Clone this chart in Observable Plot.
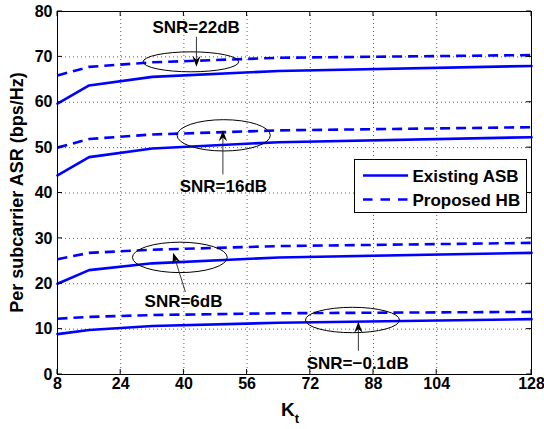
<!DOCTYPE html>
<html><head><meta charset="utf-8">
<script src="https://cdn.jsdelivr.net/npm/d3@7"></script>
<script src="https://cdn.jsdelivr.net/npm/@observablehq/plot@0.6"></script>
<style>body{margin:0;background:#fff;} #chart{width:544px;height:429px;}</style>
</head><body><div id="chart"></div>
<script>
// ---- data ----
const kt = [8, 16, 32, 64, 128];
const asb_22 = [59.7, 63.7, 65.6, 66.9, 68.0];
const hb_22  = [65.9, 67.8, 68.8, 69.8, 70.4];
const asb_16 = [43.9, 47.9, 49.8, 51.2, 52.3];
const hb_16  = [50.0, 51.9, 52.9, 53.8, 54.5];
const asb_6  = [20.0, 23.0, 24.5, 25.8, 26.8];
const hb_6   = [25.4, 26.8, 27.5, 28.3, 29.0];
const asb_m01 = [8.9, 9.8, 10.7, 11.4, 12.2];
const hb_m01  = [12.3, 12.7, 13.1, 13.5, 13.8];
const snrNames = ["22dB", "16dB", "6dB", "-0.1dB"];
const methodNames = ["Existing ASB", "Proposed HB"];
const xTicks = [8, 24, 40, 56, 72, 88, 104, 128];
const yTicks = [0, 10, 20, 30, 40, 50, 60, 70, 80];
const xLabelMain = "K", xLabelSub = "t";
const yLabel = "Per subcarrier ASR (bps/Hz)";

// annotations (data units)
const annLabels = ["SNR=22dB", "SNR=16dB", "SNR=6dB", "SNR=\u22120.1dB"];
const annTextX = [43.1, 50.0, 39.9, 84.0];
const annTextY = [76.4, 41.5, 16.0, 2.4];
const ellCx = [41.9, 50.2, 39.1, 82.8];
const ellCy = [68.8, 52.6, 25.7, 11.9];
const ellRx = [12.1, 11.8, 12.0, 11.9];
const ellRy = [2.2, 3.45, 3.35, 2.8];
const arrTailX = [43.3, 50.0, 40.5, 84.3];
const arrTailY = [74.3, 44.0, 18.1, 5.1];
const arrTipX  = [43.3, 50.0, 37.4, 84.3];
const arrTipY  = [67.7, 53.7, 26.7, 11.5];

const asbSeries = [asb_22, asb_16, asb_6, asb_m01];
const hbSeries = [hb_22, hb_16, hb_6, hb_m01];
const asbRows = [], hbRows = [];
snrNames.forEach((s, j) => kt.forEach((k, i) => {
  asbRows.push({kt: k, v: asbSeries[j][i], snr: s});
  hbRows.push({kt: k, v: hbSeries[j][i], snr: s});
}));
const ann = annLabels.map((t, i) => ({t, x: annTextX[i], y: annTextY[i]}));

const FONT = "'Liberation Sans', Arial, Helvetica, sans-serif";
const BLUE = "#0000ff";

function ellipsesMark(index, scales) {
  const g = d3.create("svg:g").attr("fill", "none").attr("stroke", "black").attr("stroke-width", 1);
  ellCx.forEach((cx, i) => {
    const px = scales.x(cx), py = scales.y(ellCy[i]);
    g.append("ellipse").attr("cx", px).attr("cy", py)
      .attr("rx", Math.abs(scales.x(cx + ellRx[i]) - px))
      .attr("ry", Math.abs(scales.y(ellCy[i] + ellRy[i]) - py));
  });
  return g.node();
}

function arrowsMark(index, scales) {
  const g = d3.create("svg:g");
  arrTailX.forEach((tx, i) => {
    const x1 = scales.x(tx), y1 = scales.y(arrTailY[i]);
    const x2 = scales.x(arrTipX[i]), y2 = scales.y(arrTipY[i]);
    const a = Math.atan2(y2 - y1, x2 - x1), c = Math.cos(a), s = Math.sin(a);
    const L = 11, Wd = 4.2;
    const bx = x2 - L * c, by = y2 - L * s;
    const nx = x2 - 0.65 * L * c, ny = y2 - 0.65 * L * s;
    g.append("line").attr("x1", x1).attr("y1", y1).attr("x2", nx).attr("y2", ny)
      .attr("stroke", "#222").attr("stroke-width", 0.9);
    g.append("path").attr("fill", "black")
      .attr("d", `M${x2},${y2}L${bx - Wd * s},${by + Wd * c}L${nx},${ny}L${bx + Wd * s},${by - Wd * c}Z`);
  });
  return g.node();
}

function innerTicksMark(index, scales, values, dims) {
  const {width, height, marginLeft, marginRight, marginTop, marginBottom} = dims;
  const l = marginLeft, r = width - marginRight, t = marginTop, b = height - marginBottom;
  const g = d3.create("svg:g").attr("stroke", "black").attr("stroke-width", 1);
  const T = 5;
  xTicks.forEach(v => {
    const x = scales.x(v);
    g.append("line").attr("x1", x).attr("x2", x).attr("y1", b).attr("y2", b - T);
    g.append("line").attr("x1", x).attr("x2", x).attr("y1", t).attr("y2", t + T);
  });
  yTicks.forEach(v => {
    const y = scales.y(v);
    g.append("line").attr("x1", l).attr("x2", l + T).attr("y1", y).attr("y2", y);
    g.append("line").attr("x1", r).attr("x2", r - T).attr("y1", y).attr("y2", y);
  });
  return g.node();
}

function labelsMark(index, scales, values, dims) {
  const {width, height, marginLeft, marginRight, marginTop, marginBottom} = dims;
  const g = d3.create("svg:g").attr("font-family", FONT).attr("font-weight", "bold").attr("fill", "black");
  const cy = (marginTop + height - marginBottom) / 2;
  g.append("text").attr("transform", `translate(17,${cy}) rotate(-90)`)
    .attr("text-anchor", "middle").attr("dy", "0.35em").attr("font-size", 18).text(yLabel);
  const cx = (marginLeft + width - marginRight) / 2;
  const tx = g.append("text").attr("x", cx - 4).attr("y", 416).attr("font-size", 19).attr("text-anchor", "middle");
  tx.append("tspan").text(xLabelMain);
  tx.append("tspan").attr("font-size", 13).attr("dy", 7).text(xLabelSub);
  return g.node();
}

function legendMark(index, scales, values, dims) {
  const g = d3.create("svg:g").attr("font-family", FONT).attr("font-weight", "bold");
  const x0 = 354.5, y0 = 159.5, w = 172, h = 53;
  g.append("rect").attr("x", x0).attr("y", y0).attr("width", w).attr("height", h)
    .attr("fill", "white").attr("stroke", "black").attr("stroke-width", 1);
  const rowsY = [175.5, 199.5];
  methodNames.forEach((m, i) => {
    g.append("line").attr("x1", 363).attr("x2", 408).attr("y1", rowsY[i]).attr("y2", rowsY[i])
      .attr("stroke", BLUE).attr("stroke-width", 2.6)
      .attr("stroke-dasharray", i === 1 ? "9.5,8" : null);
    g.append("text").attr("x", 412.5).attr("y", rowsY[i]).attr("dy", "0.36em")
      .attr("text-anchor", "start")
      .attr("font-size", 17).attr("fill", "black").text(m);
  });
  return g.node();
}

const gridStyle = {stroke: "#333", strokeWidth: 0.8, strokeDasharray: "1,3"};

const plot = Plot.plot({
  width: 544, height: 429,
  marginLeft: 57, marginRight: 13, marginTop: 11, marginBottom: 55,
  style: {fontFamily: FONT, fontWeight: "bold", background: "white", color: "black", overflow: "visible"},
  x: {domain: [8, 128]},
  y: {domain: [0, 80]},
  marks: [
    Plot.ruleX(xTicks.slice(1, -1), gridStyle),
    Plot.ruleY(yTicks.slice(1, -1), gridStyle),
    Plot.line(asbRows, {x: "kt", y: "v", z: "snr", stroke: BLUE, strokeWidth: 2.6}),
    Plot.line(hbRows, {x: "kt", y: "v", z: "snr", stroke: BLUE, strokeWidth: 2.6, strokeDasharray: "10,6", strokeLinecap: "butt"}),
    ellipsesMark,
    arrowsMark,
    Plot.text(ann, {x: "x", y: "y", text: "t", fontSize: 17, fontWeight: "bold", fill: "black"}),
    Plot.axisX({ticks: xTicks, tickSize: 0, tickPadding: 3, fontSize: 16, fontWeight: "bold", label: null}),
    Plot.axisY({ticks: yTicks, tickSize: 0, tickPadding: 5, fontSize: 16, fontWeight: "bold", label: null}),
    innerTicksMark,
    Plot.frame({stroke: "black", strokeWidth: 1}),
    legendMark,
    labelsMark
  ]
});
document.getElementById("chart").appendChild(plot);
</script>
</body></html>
